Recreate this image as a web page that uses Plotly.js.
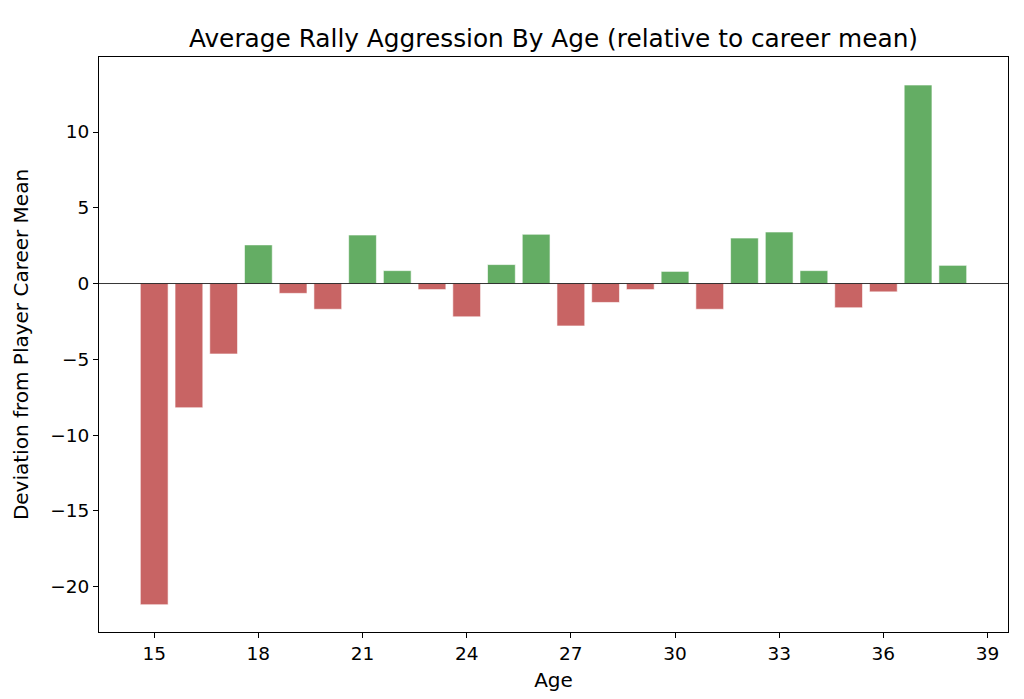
<!DOCTYPE html>
<html>
<head>
<meta charset="utf-8">
<script src="https://cdn.plot.ly/plotly-3.0.1.min.js"></script>
<style>html,body{margin:0;padding:0;background:#fff;}#chart{width:1024px;height:699px;}</style>
</head>
<body>
<div id="chart"></div>
<script>
const ages = [15,16,17,18,19,20,21,22,23,24,25,26,27,28,29,30,31,32,33,34,35,36,37,38];
const deviation = [-21.2,-8.2,-4.65,2.55,-0.65,-1.7,3.2,0.85,-0.4,-2.2,1.25,3.25,-2.8,-1.25,-0.4,0.8,-1.7,3.0,3.4,0.85,-1.6,-0.55,13.1,1.2];
const yTicks = [-20,-15,-10,-5,0,5,10];
const xTicks = [15,18,21,24,27,30,33,36,39];

const posColor = 'rgb(100,173,100)';
const negColor = 'rgb(200,100,100)';
const colors = deviation.map(v => v >= 0 ? posColor : negColor);

const trace = {
  type: 'bar',
  x: ages,
  y: deviation,
  width: 0.8,
  marker: {color: colors, line: {color: 'rgba(255,255,255,0.6)', width: 1}},
  hoverinfo: 'x+y'
};

const tickFont = {family: 'DejaVu Sans, sans-serif', size: 18.5, color: '#000'};
const labelFont = {family: 'DejaVu Sans, sans-serif', size: 20, color: '#000'};

const layout = {
  width: 1024, height: 699,
  margin: {l: 99, r: 16, t: 57, b: 67},
  paper_bgcolor: '#fff', plot_bgcolor: '#fff',
  showlegend: false,
  title: {text: 'Average Rally Aggression By Age (relative to career mean)',
          font: {family: 'DejaVu Sans, sans-serif', size: 24.8, color: '#000'},
          xref: 'paper', x: 0.5, xanchor: 'center', y: 1 - 38/699, yanchor: 'middle'},
  xaxis: {
    range: [13.41, 39.59],
    tickvals: xTicks, ticktext: xTicks.map(String),
    ticks: 'outside', ticklen: 5, tickwidth: 1, tickcolor: '#000',
    showline: true, linecolor: '#000', linewidth: 1, mirror: true,
    showgrid: false, zeroline: false,
    tickfont: tickFont,
    title: {text: 'Age', font: labelFont, standoff: 9}
  },
  yaxis: {
    range: [-23.0, 14.95],
    tickvals: yTicks, ticktext: yTicks.map(v => v < 0 ? '\u2212' + Math.abs(v) : String(v)),
    ticks: 'outside', ticklen: 5, tickwidth: 1, tickcolor: '#000',
    showline: true, linecolor: '#000', linewidth: 1, mirror: true,
    showgrid: false, zeroline: false,
    tickfont: tickFont,
    title: {text: 'Deviation from Player Career Mean', font: labelFont, standoff: 16}
  },
  shapes: [{type: 'line', xref: 'paper', x0: 0, x1: 1, yref: 'y', y0: 0, y1: 0,
            line: {color: '#000', width: 0.8}}]
};

Plotly.newPlot('chart', [trace], layout, {displayModeBar: false, staticPlot: true});
</script>
</body>
</html>
